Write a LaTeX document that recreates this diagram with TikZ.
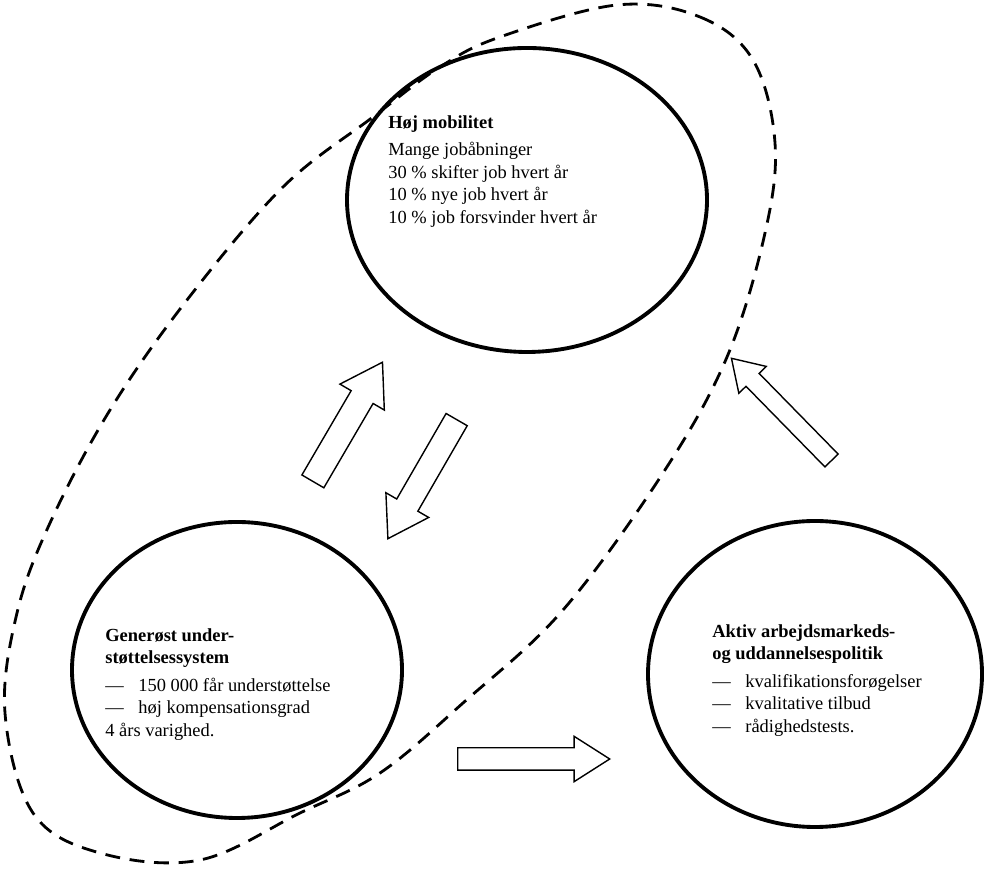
\documentclass[tikz,border=0pt]{standalone}
\usepackage{fontspec}
\setmainfont{Liberation Serif}
\usepackage{tikz}
\usetikzlibrary{shapes.geometric,shapes.arrows}

\newcommand{\streg}{\makebox[0.66cm][l]{—}}

\begin{document}
\begin{tikzpicture}[
    felt/.style={ellipse, draw=black, line width=2.2pt, inner sep=0pt},
    tekst/.style={anchor=north west, align=left, inner sep=0pt,
                  font=\fontsize{10.5}{12.8}\selectfont},
    blokpil/.style={single arrow, draw=black, fill=white, line width=0.8pt,
                    inner xsep=0pt, single arrow head indent=0pt,
                    single arrow tip angle=65, anchor=tail},
    graense/.style={black, line width=1.6pt, dash pattern=on 8.5pt off 5.5pt}
  ]
  \useasboundingbox (0,0) rectangle (19.70,17.42);

  % Stiplet afgraensning
  \draw[graense] plot[smooth cycle, tension=0.6] coordinates {
    (12.34,17.32) (14.00,17.08) (15.06,16.22) (15.50,14.56) (15.30,12.76)
    (14.54,10.28) (13.26,7.96) (11.26,5.22) (9.26,3.36) (7.60,1.96)
    (6.00,1.16) (4.00,0.22) (2.00,0.36) (0.66,1.16) (0.10,3.16)
    (0.34,5.16) (1.00,6.96) (2.20,9.22) (3.74,11.42) (5.66,13.68)
    (7.46,15.08) (8.80,16.08) (10.00,16.68)};

  % Cirkler
  \node[felt, minimum width=7.2cm, minimum height=6.08cm] (mobilitet) at (10.54,13.42) {};
  \node[felt, minimum width=6.6cm, minimum height=5.92cm] (stoette) at (4.74,4.02) {};
  \node[felt, minimum width=6.68cm, minimum height=6.12cm] (aktiv) at (16.30,3.94) {};

  % Tekster
  \node[tekst] (mobtekst) at (7.76,15.12) {\textbf{Høj mobilitet}\\[3pt]
    Mange jobåbninger\\
    30 \% skifter job hvert år\\
    10 \% nye job hvert år\\
    10 \% job forsvinder hvert år};
  \node[tekst] (stoettetekst) at (2.10,4.86) {\textbf{Generøst under-}\\
    \textbf{støttelsessystem}\\[3pt]
    \streg 150 000 får understøttelse\\
    \streg høj kompensationsgrad\\
    4 års varighed.};
  \node[tekst] (aktivtekst) at (14.24,4.94) {\textbf{Aktiv arbejdsmarkeds-}\\
    \textbf{og uddannelsespolitik}\\[3pt]
    \streg kvalifikationsforøgelser\\
    \streg kvalitative tilbud\\
    \streg rådighedstests.};

  % Pile
  \node[blokpil, minimum height=2.76cm, inner ysep=0.24cm,
        single arrow head extend=0.26cm, rotate=59.7] (pilop) at (6.25,7.78) {};
  \node[blokpil, minimum height=2.75cm, inner ysep=0.23cm,
        single arrow head extend=0.25cm, rotate=240] (pilned) at (9.14,9.04) {};
  \node[blokpil, minimum height=3.04cm, inner ysep=0.21cm,
        single arrow head extend=0.23cm] (pilhoejre) at (9.14,2.24) {};
  \node[blokpil, minimum height=2.86cm, inner ysep=0.17cm,
        single arrow head extend=0.2cm, rotate=134.4] (pilretur) at (16.64,8.20) {};
\end{tikzpicture}
\end{document}
